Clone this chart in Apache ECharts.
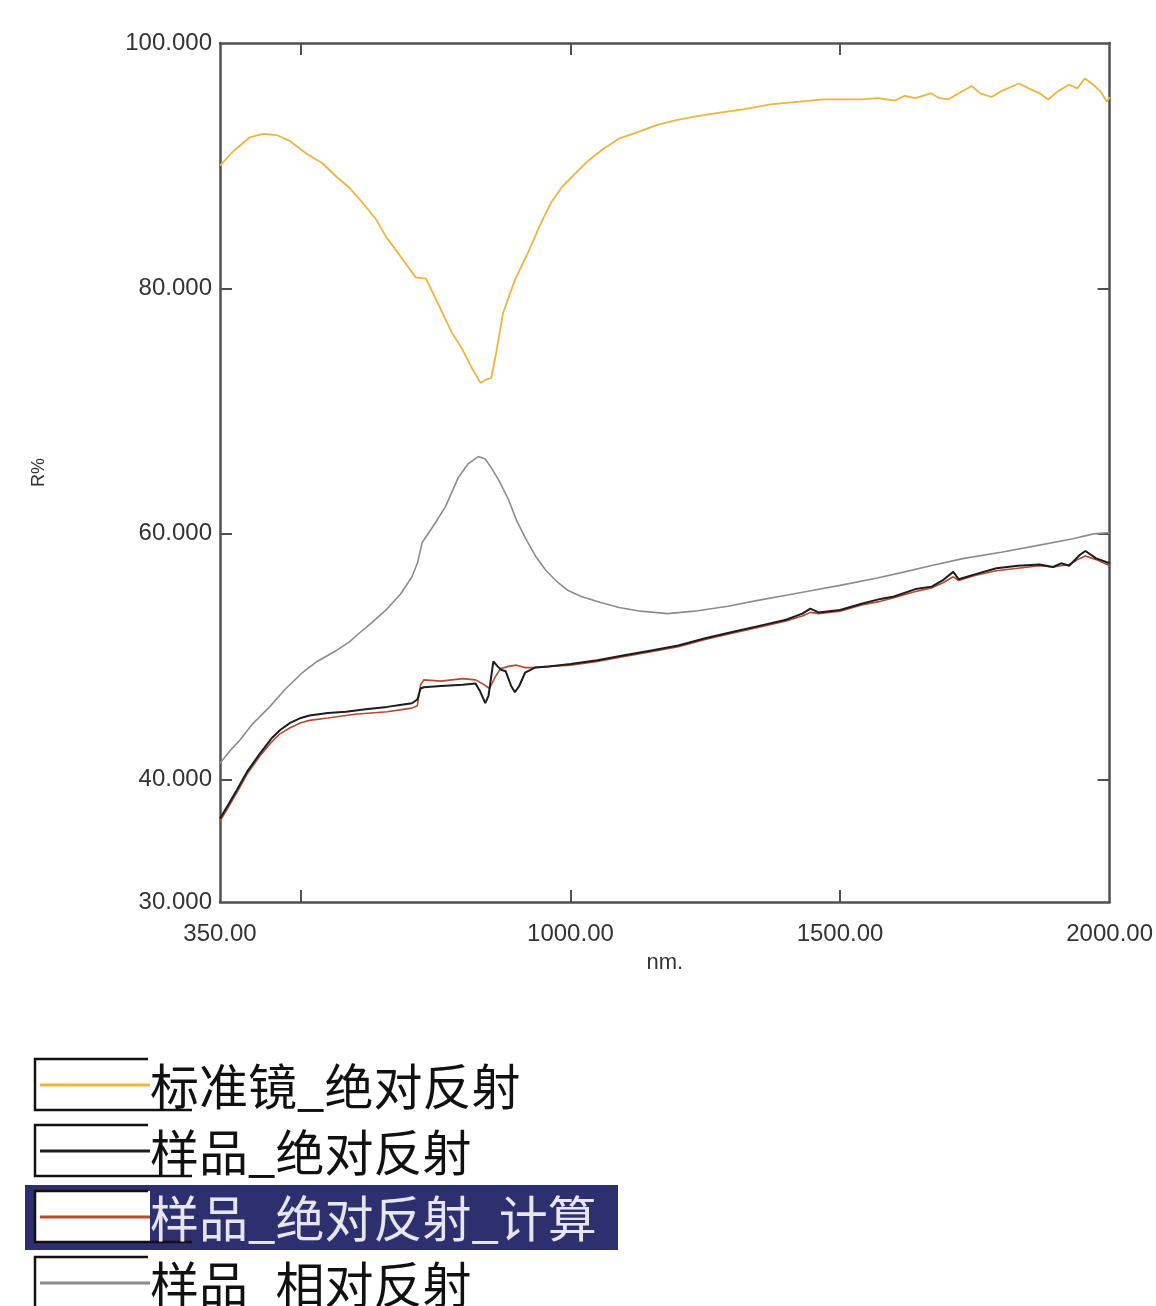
<!DOCTYPE html>
<html>
<head>
<meta charset="utf-8">
<script src="https://cdn.jsdelivr.net/npm/echarts@6/dist/echarts.min.js"></script>
<style>
html,body{margin:0;padding:0;background:#fff;overflow:hidden;}
#chart{width:1156px;height:1306px;}
</style>
</head>
<body>
<div id="chart"></div>
<script>
// ---- data ----
const seriesNames = ['标准镜_绝对反射', '样品_绝对反射', '样品_绝对反射_计算', '样品_相对反射'];
const seriesColors = ['#f2b33d', '#1c1c1c', '#b9482f', '#8c8c8c'];
const xTickLabels = [350, 1000, 1500, 2000];
const xTickMarks = [500, 1000, 1500];
const yTickLabels = [30, 40, 60, 80, 100];
const yTickMarks = [40, 60, 80];

const stdMirrorAbs = [
 [350,90.0],[375,91.2],[405,92.3],[430,92.6],[455,92.5],[480,92.0],[510,91.0],[540,90.2],
 [566,89.1],[590,88.2],[614,87.0],[640,85.6],[658,84.2],[690,82.3],[713,80.9],[732,80.8],
 [755,78.7],[780,76.4],[800,75.0],[816,73.6],[833,72.3],[845,72.6],[853,72.7],[862,74.7],
 [875,78.0],[897,80.7],[921,82.9],[945,85.3],[964,87.0],[985,88.3],[1005,89.2],[1030,90.3],
 [1062,91.4],[1090,92.2],[1122,92.7],[1160,93.3],[1194,93.7],[1230,94.0],[1274,94.3],
 [1320,94.6],[1371,95.0],[1420,95.2],[1470,95.4],[1504,95.4],[1540,95.4],[1570,95.5],
 [1602,95.3],[1620,95.7],[1640,95.5],[1668,95.9],[1685,95.5],[1701,95.4],[1720,95.9],
 [1744,96.5],[1760,95.9],[1781,95.6],[1800,96.1],[1832,96.7],[1850,96.3],[1870,95.9],
 [1886,95.4],[1905,96.1],[1925,96.6],[1940,96.3],[1954,97.1],[1970,96.6],[1984,96.0],
 [1995,95.2],[2000,95.6]
];

const sampleAbs = [
 [350,36.8],[365,37.9],[381,39.1],[400,40.6],[424,42.1],[445,43.3],[461,44.0],[480,44.6],
 [500,45.0],[516,45.2],[550,45.4],[584,45.5],[620,45.7],[660,45.9],[690,46.1],[706,46.2],
 [716,46.5],[722,47.4],[728,47.5],[760,47.6],[800,47.7],[824,47.8],[832,47.2],[842,46.2],
 [848,46.8],[857,49.6],[865,49.2],[872,48.9],[880,48.8],[890,47.6],[897,47.1],[905,47.6],
 [916,48.7],[934,49.1],[960,49.2],[1000,49.4],[1050,49.7],[1100,50.1],[1150,50.5],
 [1200,50.9],[1250,51.5],[1300,52.0],[1350,52.5],[1400,53.0],[1430,53.5],[1445,53.9],
 [1460,53.6],[1500,53.8],[1540,54.3],[1575,54.7],[1600,54.9],[1640,55.5],[1670,55.7],
 [1690,56.2],[1710,56.9],[1720,56.3],[1750,56.7],[1790,57.2],[1830,57.4],[1870,57.5],
 [1895,57.3],[1910,57.6],[1925,57.4],[1945,58.3],[1955,58.6],[1975,58.0],[2000,57.6]
];

const sampleAbsCalc = [
 [350,36.6],[365,37.7],[381,38.9],[400,40.4],[424,41.9],[445,43.0],[461,43.7],[480,44.2],
 [500,44.6],[516,44.8],[550,45.0],[600,45.3],[660,45.5],[690,45.7],[706,45.8],[716,46.0],
 [722,47.7],[728,48.1],[760,48.0],[800,48.2],[824,48.1],[840,47.7],[850,47.4],[860,48.3],
 [870,49.0],[885,49.2],[900,49.3],[916,49.1],[934,49.1],[960,49.2],[1000,49.3],[1050,49.6],
 [1100,50.0],[1150,50.4],[1200,50.8],[1250,51.4],[1300,51.9],[1350,52.4],[1400,52.9],
 [1430,53.3],[1445,53.6],[1460,53.5],[1500,53.7],[1540,54.2],[1575,54.5],[1600,54.8],
 [1640,55.3],[1670,55.6],[1690,56.0],[1710,56.5],[1720,56.2],[1750,56.6],[1790,57.0],
 [1830,57.2],[1870,57.4],[1895,57.3],[1910,57.4],[1925,57.5],[1945,58.0],[1955,58.2],
 [1975,57.9],[2000,57.4]
];

const sampleRel = [
 [350,41.3],[370,42.4],[387,43.2],[410,44.5],[442,45.9],[470,47.3],[503,48.7],[530,49.6],
 [566,50.5],[590,51.2],[608,51.9],[630,52.7],[658,53.8],[685,55.1],[706,56.5],[716,57.6],
 [725,59.3],[745,60.6],[768,62.2],[792,64.6],[810,65.7],[829,66.3],[842,66.1],[853,65.4],
 [868,64.3],[885,62.8],[900,61.1],[916,59.7],[935,58.2],[953,57.1],[975,56.1],[995,55.4],
 [1020,54.9],[1056,54.4],[1090,54.0],[1130,53.7],[1180,53.5],[1230,53.7],[1292,54.1],
 [1350,54.6],[1400,55.0],[1438,55.3],[1500,55.8],[1569,56.4],[1620,56.9],[1668,57.4],
 [1730,58.0],[1799,58.5],[1860,59.0],[1932,59.6],[1970,60.0],[2000,60.1]
];

const seriesData = [stdMirrorAbs, sampleAbs, sampleAbsCalc, sampleRel];

// ---- chart ----
const axisColor = '#505050';
const labelFont = "'Liberation Sans Narrow','Arial Narrow','Liberation Sans',sans-serif";
const chart = echarts.init(document.getElementById('chart'), null, {width:1156, height:1306});

const legendTop0 = 1059, legendStep = 66;
const graphics = [];
seriesNames.forEach((name, i) => {
  const top = legendTop0 + i * legendStep;
  const mid = top + 26;
  if (i === 2) {
    graphics.push({type:'rect', shape:{x:25, y:top - 6, width:593, height:65}, style:{fill:'#2e2f6e'}, z:100});
    graphics.push({type:'rect', shape:{x:35, y:top, width:115, height:51}, style:{fill:'#ffffff'}, z:101});
  }
  graphics.push({type:'polyline', shape:{points:[[148, top],[35, top],[35, top + 51],[192, top + 51]]},
    style:{stroke:'#111', lineWidth:2.5, fill:null}, z:102});
  graphics.push({type:'line', shape:{x1:40, y1:mid, x2:150, y2:mid},
    style:{stroke:seriesColors[i], lineWidth:3}, z:102});
  graphics.push({type:'text', x:150, y:mid + 1, style:{text:name, fill: i === 2 ? '#e6e6f0' : '#111',
    font:"49px 'Noto Sans CJK SC', sans-serif", textVerticalAlign:'middle', textAlign:'left'}, z:103});
});

chart.setOption({
  backgroundColor:'#ffffff',
  animation:false,
  grid:{left:220, width:895, top:43, height:859, containLabel:false},
  xAxis:[{
    type:'value', min:350, max:2000, interval:50, position:'bottom',
    name:'nm.', nameLocation:'middle', nameGap:50,
    nameTextStyle:{fontFamily:labelFont, fontSize:22, color:'#333'},
    axisLine:{show:true, lineStyle:{color:axisColor, width:2.5}},
    axisTick:{show:true, inside:true, length:12, customValues:xTickMarks, lineStyle:{color:axisColor, width:2}},
    axisLabel:{show:true, customValues:xTickLabels, margin:20, fontFamily:labelFont, fontSize:24, color:'#333',
      formatter:v => v.toFixed(2)},
    splitLine:{show:false}
  },{
    type:'value', min:350, max:2000, interval:50, position:'top',
    axisLine:{show:true, lineStyle:{color:axisColor, width:2.5}},
    axisTick:{show:true, inside:true, length:12, customValues:xTickMarks, lineStyle:{color:axisColor, width:2}},
    axisLabel:{show:false}, splitLine:{show:false}
  }],
  yAxis:[{
    type:'value', min:30, max:100, interval:10, position:'left',
    name:'R%', nameLocation:'middle', nameGap:172,
    nameTextStyle:{fontFamily:"'Liberation Sans',sans-serif", fontSize:18, color:'#333'},
    axisLine:{show:true, lineStyle:{color:axisColor, width:2.5}},
    axisTick:{show:true, inside:true, length:12, customValues:yTickMarks, lineStyle:{color:axisColor, width:2}},
    axisLabel:{show:true, customValues:yTickLabels, margin:8, fontFamily:labelFont, fontSize:24, color:'#333',
      formatter:v => v.toFixed(3)},
    splitLine:{show:false}
  },{
    type:'value', min:30, max:100, interval:10, position:'right',
    axisLine:{show:true, lineStyle:{color:axisColor, width:2.5}},
    axisTick:{show:true, inside:true, length:12, customValues:yTickMarks, lineStyle:{color:axisColor, width:2}},
    axisLabel:{show:false}, splitLine:{show:false}
  }],
  graphic:graphics,
  series:[
    {name:seriesNames[0], type:'line', data:seriesData[0], showSymbol:false, z:2,
      lineStyle:{color:seriesColors[0], width:1.8}, itemStyle:{color:seriesColors[0]}},
    {name:seriesNames[3], type:'line', data:seriesData[3], showSymbol:false, z:2,
      lineStyle:{color:seriesColors[3], width:1.6}, itemStyle:{color:seriesColors[3]}},
    {name:seriesNames[2], type:'line', data:seriesData[2], showSymbol:false, z:3,
      lineStyle:{color:seriesColors[2], width:1.6}, itemStyle:{color:seriesColors[2]}},
    {name:seriesNames[1], type:'line', data:seriesData[1], showSymbol:false, z:4,
      lineStyle:{color:seriesColors[1], width:2}, itemStyle:{color:seriesColors[1]}}
  ]
});
</script>
</body>
</html>
